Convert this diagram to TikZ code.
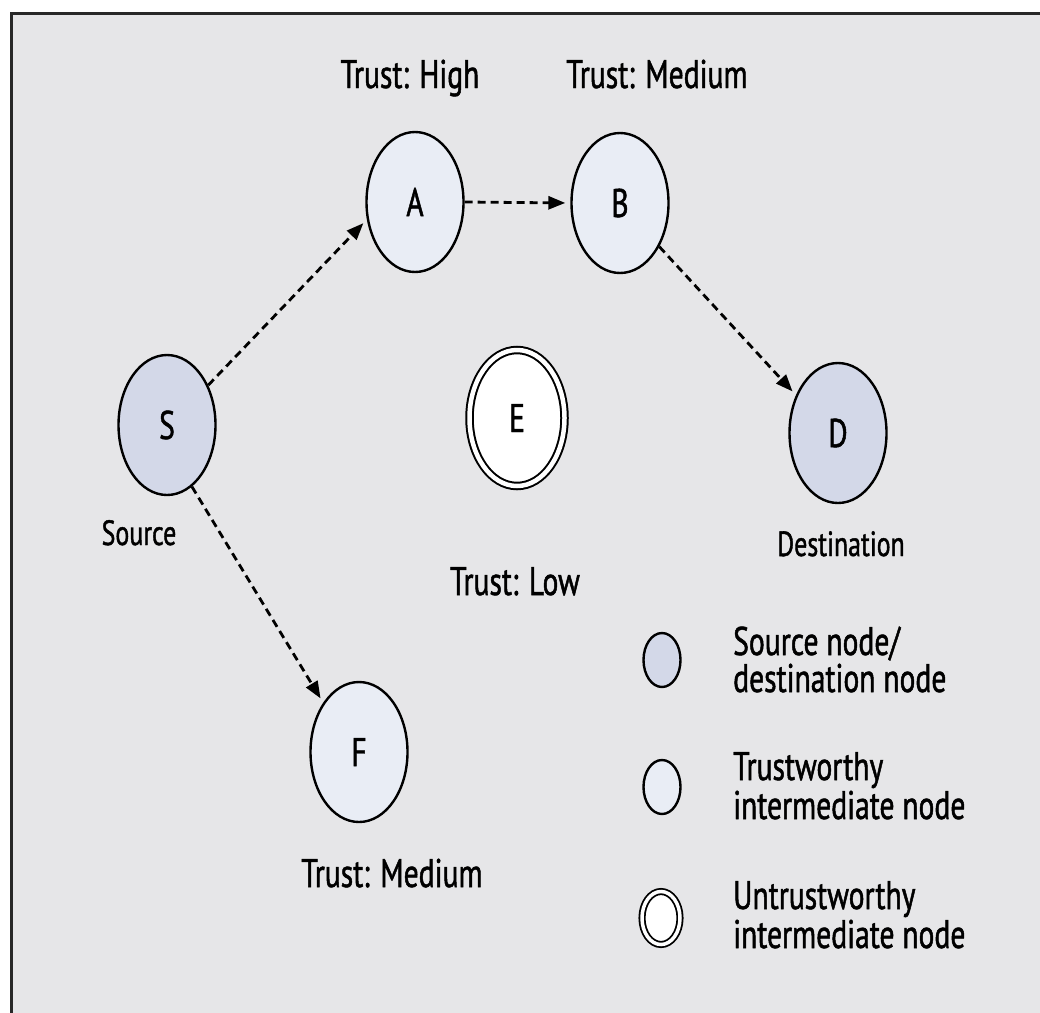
\documentclass[tikz,border=0pt]{standalone}
\usepackage{fontspec}
\setmainfont{PT Sans}[FakeStretch=0.74, FakeBold=1.2]
\usetikzlibrary{shapes.geometric,arrows.meta}

\definecolor{panel}{RGB}{230,230,232}
\definecolor{frameline}{RGB}{40,40,40}
\definecolor{endfill}{RGB}{211,216,232}
\definecolor{midfill}{RGB}{233,237,245}

\tikzset{
  lbl/.style={font=\fontsize{40}{44}\selectfont, inner sep=0pt},
  small/.style={font=\fontsize{35}{40}\selectfont, inner sep=0pt},
  peer/.style={ellipse, draw=black, line width=2.4pt, minimum width=97pt,
               minimum height=140pt, inner sep=0pt,
               font=\fontsize{40}{44}\selectfont},
  endpoint/.style={peer, fill=endfill},
  trusted/.style={peer, fill=midfill},
  untrusted/.style={peer, fill=white, line width=2pt, double=white,
                    double distance=4.5pt, minimum width=95pt, minimum height=136pt},
  keyend/.style={endpoint, minimum width=37pt, minimum height=54pt},
  keytrust/.style={trusted, minimum width=37pt, minimum height=54pt},
  keyuntrust/.style={untrusted, line width=1.8pt, double distance=3.5pt,
                     minimum width=38pt, minimum height=53pt},
  hop/.style={line width=2.8pt, dash pattern=on 8pt off 5pt,
              -{Triangle[length=17pt,width=13pt]}, shorten >=5pt}
}

\begin{document}
\begin{tikzpicture}[x=1pt, y=-1pt]
  \useasboundingbox (0,0) rectangle (1040,1012);
  % framed panel, running past the right and bottom edges
  \path[fill=white] (0,0) rectangle (1040,1012);
  \draw[fill=panel, draw=frameline, line width=3pt] (11,13) rectangle (1060,1030);

  % network nodes
  \node[endpoint]  (S) at (167,425) {S};
  \node[trusted]   (A) at (415,202) {A};
  \node[trusted]   (B) at (620,203) {B};
  \node[untrusted] (E) at (517,418) {E};
  \node[endpoint]  (D) at (838,433) {D};
  \node[trusted]   (F) at (359,752) {F};

  % labels
  \node[lbl, anchor=base] (tA) at (410,88)  {Trust: High};
  \node[lbl, anchor=base] (tB) at (657,88)  {Trust: Medium};
  \node[small, anchor=base] (tS) at (139,545) {Source};
  \node[small, anchor=base] (tD) at (841,556) {Destination};
  \node[lbl, anchor=base] (tE) at (515,595) {Trust: Low};
  \node[lbl, anchor=base] (tF) at (392,887) {Trust: Medium};

  % routes
  \draw[hop] (S.44)  -- (A.200);
  \draw[hop] (A.east) -- (B.west);
  \draw[hop] (B.-48) -- (D.138);
  \draw[hop] (S.-68) -- (F.126);

  % legend
  \node[keyend]     (k1) at (662,660) {};
  \node[keytrust]   (k2) at (662,787) {};
  \node[keyuntrust] (k3) at (661,918) {};
  \node[lbl, anchor=base west] (k1a) at (733,655) {Source node/};
  \node[lbl, anchor=base west] (k1b) at (733,692) {destination node};
  \node[lbl, anchor=base west] (k2a) at (733,780) {Trustworthy};
  \node[lbl, anchor=base west] (k2b) at (733,819) {intermediate node};
  \node[lbl, anchor=base west] (k3a) at (733,909) {Untrustworthy};
  \node[lbl, anchor=base west] (k3b) at (733,948) {intermediate node};
\end{tikzpicture}
\end{document}
